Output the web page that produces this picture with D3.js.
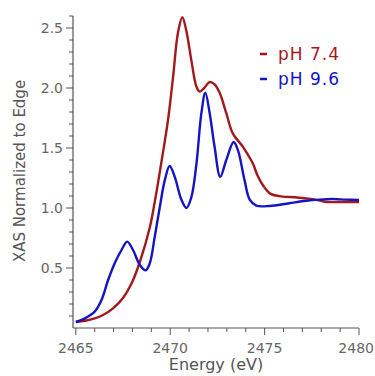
<!DOCTYPE html>
<html><head><meta charset="utf-8">
<script src="https://cdn.jsdelivr.net/npm/d3@7"></script>
<style>body{margin:0;background:#fff}svg{display:block}</style>
</head><body>
<svg id="c" width="375" height="376"></svg>
<script>
const energyRed = [2465.0,2465.5,2466.0,2466.44,2466.97,2467.5,2467.95,2468.39,2468.92,2469.18,2469.5,2469.88,2470.15,2470.41,2470.64,2470.85,2471.12,2471.39,2471.56,2471.8,2472.09,2472.35,2472.62,2472.97,2473.32,2473.85,2474.38,2474.6,2474.91,2475.3,2475.97,2476.6,2477.2,2477.7,2478.26,2478.9,2479.5,2480.0];
const valueRed  = [0.05,0.06,0.08,0.108,0.164,0.25,0.37,0.55,0.84,1.05,1.35,1.73,2.09,2.46,2.59,2.48,2.23,2.01,1.97,2.0,2.05,2.03,1.96,1.79,1.62,1.51,1.37,1.28,1.19,1.12,1.095,1.09,1.08,1.07,1.05,1.05,1.05,1.05];
const energyBlue = [2465.0,2465.48,2466.0,2466.36,2466.71,2467.06,2467.42,2467.72,2468.03,2468.39,2468.7,2468.92,2469.18,2469.44,2469.71,2469.97,2470.24,2470.59,2470.86,2471.12,2471.39,2471.65,2471.86,2472.09,2472.35,2472.65,2472.97,2473.36,2473.59,2473.94,2474.21,2474.56,2475.26,2476.3,2477.2,2477.9,2478.6,2479.3,2480.0];
const valueBlue  = [0.05,0.08,0.136,0.233,0.40,0.54,0.65,0.72,0.65,0.525,0.48,0.54,0.76,1.0,1.23,1.35,1.26,1.07,1.0,1.09,1.37,1.79,1.96,1.79,1.51,1.26,1.40,1.55,1.48,1.23,1.07,1.02,1.017,1.04,1.06,1.07,1.075,1.07,1.067];
const xTicks = [2465,2470,2475,2480];
const yTicks = [0.5,1.0,1.5,2.0,2.5];
const seriesNames = ["pH 7.4","pH 9.6"];
const seriesColors = ["#a3191b","#1414c4"];

const svg = d3.select("#c");
const font = "'DejaVu Sans', sans-serif";
const axisColor = "#555";
const x = d3.scaleLinear().domain([2464.85,2480]).range([73,359]);
const y = d3.scaleLinear().domain([0,2.6]).range([328,16]);

// y axis
const ya = svg.append("g").attr("transform","translate(73,0)");
ya.append("line").attr("x1",0).attr("x2",0).attr("y1",y(0)).attr("y2",y(2.6)).attr("stroke",axisColor).attr("stroke-width",1.2);
d3.range(1,27).forEach(i=>{
  const v=i/10, major = i%5===0;
  ya.append("line").attr("x1",major?-7:-4).attr("x2",0).attr("y1",y(v)).attr("y2",y(v)).attr("stroke",axisColor).attr("stroke-width",1);
});
yTicks.forEach(v=>{
  ya.append("text").attr("x",-10).attr("y",y(v)).attr("dy","0.36em").attr("text-anchor","end")
    .attr("font-family",font).attr("font-size",14).attr("fill","#666").text(v.toFixed(1));
});
// x axis
const xa = svg.append("g").attr("transform",`translate(0,${y(0)})`);
xa.append("line").attr("x1",x(2464.85)).attr("x2",x(2480)).attr("y1",0).attr("y2",0).attr("stroke",axisColor).attr("stroke-width",1.2);
d3.range(2465,2481).forEach(e=>{
  const major = e%5===0;
  xa.append("line").attr("x1",x(e)).attr("x2",x(e)).attr("y1",0).attr("y2",major?7:4).attr("stroke",axisColor).attr("stroke-width",1);
});
xTicks.forEach((e,i)=>{
  const last = i===xTicks.length-1;
  xa.append("text").attr("x",last?374:x(e)).attr("y",25).attr("text-anchor",last?"end":"middle")
    .attr("font-family",font).attr("font-size",14).attr("fill","#666").text(e);
});
// labels
svg.append("text").attr("transform","translate(25,171) rotate(-90)").attr("text-anchor","middle")
  .attr("font-family",font).attr("font-size",15).attr("fill","#555").text("XAS Normalized to Edge");
svg.append("text").attr("x",216).attr("y",370).attr("text-anchor","middle")
  .attr("font-family",font).attr("font-size",16).attr("fill","#555").text("Energy (eV)");

// lines
const line = d3.line().curve(d3.curveCatmullRom.alpha(0.5));
const series = [[energyRed,valueRed],[energyBlue,valueBlue]];
series.forEach((s,i)=>{
  const pts = s[0].map((e,j)=>[x(e),y(s[1][j])]);
  svg.append("path").attr("d",line(pts)).attr("fill","none").attr("stroke",seriesColors[i]).attr("stroke-width",2.4).attr("stroke-linejoin","round");
});
// legend
seriesNames.forEach((n,i)=>{
  const ly = 60 + i*25;
  svg.append("line").attr("x1",260).attr("x2",267).attr("y1",ly-6).attr("y2",ly-6).attr("stroke",seriesColors[i]).attr("stroke-width",2.5);
  svg.append("text").attr("x",278).attr("y",ly).attr("font-family",font).attr("font-size",17).attr("letter-spacing",1)
    .attr("fill",seriesColors[i]).text(n);
});
</script>
</body></html>
